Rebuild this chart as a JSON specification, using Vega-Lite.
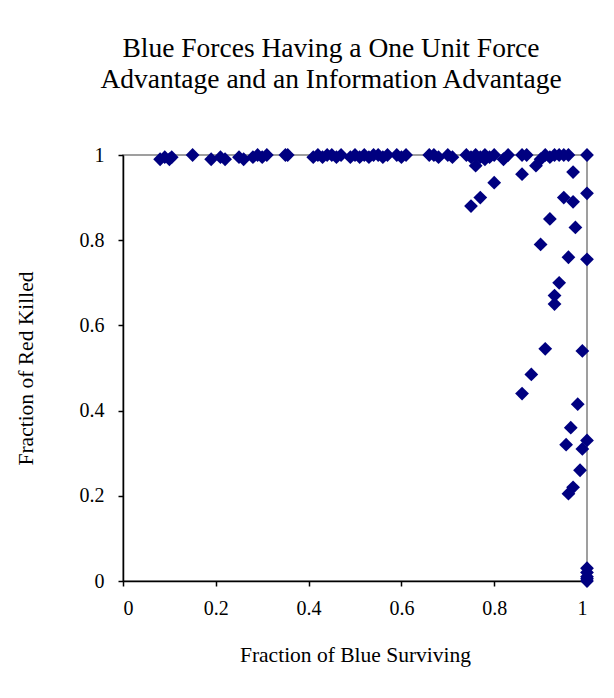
{
  "$schema": "https://vega.github.io/schema/vega-lite/v6.json",
  "width": 464,
  "height": 426,
  "autosize": "none",
  "padding": {"left": 123, "top": 155, "right": 27, "bottom": 117},
  "background": "white",
  "title": {
    "text": ["Blue Forces Having a One Unit Force", "Advantage and an Information Advantage"],
    "font": "Liberation Serif",
    "fontSize": 27.5,
    "fontWeight": "normal",
    "color": "black",
    "lineHeight": 31,
    "anchor": "middle",
    "dx": -24,
    "offset": 52
  },
  "config": {
    "view": {"stroke": "#808080", "strokeWidth": 1.5},
    "axis": {
      "labelFont": "Liberation Serif",
      "titleFont": "Liberation Serif",
      "labelFontSize": 20,
      "titleFontSize": 21.5,
      "titleFontWeight": "normal",
      "labelColor": "black",
      "titleColor": "black",
      "domainColor": "black",
      "tickColor": "black",
      "domainWidth": 1.5,
      "tickWidth": 1.5,
      "tickSize": 5,
      "grid": false
    }
  },
  "data": {
    "values": [
      {"x": 0.08, "y": 0.99}, {"x": 0.09, "y": 0.995}, {"x": 0.1, "y": 0.99}, {"x": 0.105, "y": 0.995},
      {"x": 0.15, "y": 1.0}, {"x": 0.19, "y": 0.99}, {"x": 0.21, "y": 0.995}, {"x": 0.22, "y": 0.99},
      {"x": 0.25, "y": 0.995}, {"x": 0.26, "y": 0.99}, {"x": 0.28, "y": 0.995}, {"x": 0.29, "y": 1.0},
      {"x": 0.3, "y": 0.995}, {"x": 0.31, "y": 1.0}, {"x": 0.35, "y": 1.0}, {"x": 0.355, "y": 1.0},
      {"x": 0.41, "y": 0.995}, {"x": 0.42, "y": 1.0}, {"x": 0.43, "y": 0.995}, {"x": 0.44, "y": 1.0},
      {"x": 0.45, "y": 1.0}, {"x": 0.46, "y": 0.995}, {"x": 0.47, "y": 1.0}, {"x": 0.49, "y": 0.995},
      {"x": 0.5, "y": 1.0}, {"x": 0.51, "y": 0.995}, {"x": 0.52, "y": 1.0}, {"x": 0.53, "y": 0.995},
      {"x": 0.54, "y": 1.0}, {"x": 0.55, "y": 1.0}, {"x": 0.56, "y": 0.995}, {"x": 0.57, "y": 1.0},
      {"x": 0.59, "y": 1.0}, {"x": 0.6, "y": 0.995}, {"x": 0.61, "y": 1.0}, {"x": 0.66, "y": 1.0},
      {"x": 0.67, "y": 1.0}, {"x": 0.68, "y": 0.995}, {"x": 0.7, "y": 1.0}, {"x": 0.71, "y": 0.995},
      {"x": 0.74, "y": 1.0}, {"x": 0.75, "y": 0.995}, {"x": 0.76, "y": 1.0}, {"x": 0.77, "y": 0.995},
      {"x": 0.78, "y": 1.0}, {"x": 0.79, "y": 0.995}, {"x": 0.8, "y": 1.0}, {"x": 0.82, "y": 0.99},
      {"x": 0.83, "y": 1.0}, {"x": 0.86, "y": 1.0}, {"x": 0.87, "y": 1.0}, {"x": 0.9, "y": 0.99},
      {"x": 0.91, "y": 1.0}, {"x": 0.92, "y": 0.995}, {"x": 0.93, "y": 1.0}, {"x": 0.94, "y": 1.0},
      {"x": 0.95, "y": 1.0}, {"x": 0.96, "y": 1.0}, {"x": 1.0, "y": 1.0},
      {"x": 0.75, "y": 0.88}, {"x": 0.76, "y": 0.975}, {"x": 0.77, "y": 0.9}, {"x": 0.8, "y": 0.935},
      {"x": 0.78, "y": 0.99}, {"x": 0.86, "y": 0.955}, {"x": 0.89, "y": 0.975}, {"x": 0.86, "y": 0.44},
      {"x": 0.88, "y": 0.485}, {"x": 0.9, "y": 0.79}, {"x": 0.91, "y": 0.545}, {"x": 0.92, "y": 0.85},
      {"x": 0.93, "y": 0.67}, {"x": 0.93, "y": 0.65}, {"x": 0.94, "y": 0.7}, {"x": 0.95, "y": 0.9},
      {"x": 0.96, "y": 0.76}, {"x": 0.955, "y": 0.32}, {"x": 0.965, "y": 0.36}, {"x": 0.96, "y": 0.205},
      {"x": 0.97, "y": 0.96}, {"x": 0.97, "y": 0.89}, {"x": 0.97, "y": 0.22}, {"x": 0.975, "y": 0.83},
      {"x": 0.98, "y": 0.415}, {"x": 0.985, "y": 0.26}, {"x": 0.99, "y": 0.54}, {"x": 0.99, "y": 0.31},
      {"x": 1.0, "y": 0.91}, {"x": 1.0, "y": 0.755}, {"x": 1.0, "y": 0.33}, {"x": 1.0, "y": 0.03},
      {"x": 1.0, "y": 0.02}, {"x": 1.0, "y": 0.01}, {"x": 1.0, "y": 0.0}, {"x": 1.0, "y": 0.005}
    ]
  },
  "mark": {"type": "point", "shape": "diamond", "filled": true, "size": 190, "color": "#000080", "opacity": 1},
  "encoding": {
    "x": {
      "field": "x", "type": "quantitative",
      "scale": {"domain": [0, 1], "nice": false, "zero": false},
      "axis": {"values": [0, 0.2, 0.4, 0.6, 0.8, 1], "format": "~g", "labelPadding": 12, "title": "Fraction of Blue Surviving", "titlePadding": 26}
    },
    "y": {
      "field": "y", "type": "quantitative",
      "scale": {"domain": [0, 1], "nice": false, "zero": false},
      "axis": {"values": [0, 0.2, 0.4, 0.6, 0.8, 1], "format": "~g", "labelPadding": 14, "title": "Fraction of Red Killed", "titlePadding": 42}
    }
  }
}
